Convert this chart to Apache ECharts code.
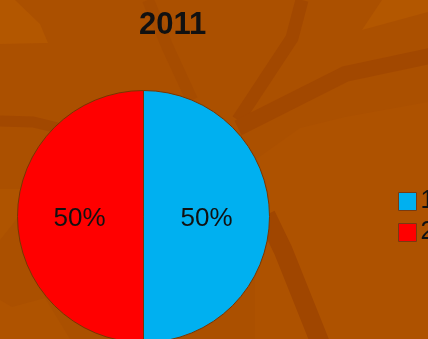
<!DOCTYPE html>
<html>
<head>
<meta charset="utf-8">
<script src="https://cdn.jsdelivr.net/npm/echarts@6/dist/echarts.min.js"></script>
<style>
  html, body { margin: 0; padding: 0; background: #ab5000; }
  #chart { width: 428px; height: 339px; }
</style>
</head>
<body>
<div id="chart"></div>
<script>
// Chart content
const chartTitle = '2011';
const categories = ['1', '2'];
const values = [50, 50];
const sliceColors = ['#00b0f0', '#ff0000'];
// Small nudges for the in-slice percentage labels
const labelOffsets = [[-3, 2], [2, 2]];

// Wood-grain style backdrop made of flat shapes
const LIGHT = '#b35700';
const DARK = '#a24800';
const backdrop = [
  { type: 'rect', shape: { x: 0, y: 0, width: 428, height: 339 }, style: { fill: '#ab5000' } },
  { type: 'polygon', shape: { points: [[0, 0], [15, 0], [40, 24], [48, 43], [0, 44]] }, style: { fill: LIGHT } },
  { type: 'polygon', shape: { points: [[362, 30], [382, 0], [428, 0], [428, 12]] }, style: { fill: LIGHT } },
  { type: 'polygon', shape: { points: [[255, 160], [300, 128], [345, 117], [428, 102], [428, 339], [255, 339]] }, style: { fill: '#ae5200' } },
  { type: 'polygon', shape: { points: [[0, 189], [20, 189], [30, 200], [12, 225], [0, 240]] }, style: { fill: '#af5400' } },
  { type: 'polygon', shape: { points: [[0, 300], [12, 307], [45, 298], [70, 339], [0, 339]] }, style: { fill: '#af5300' } },
  { type: 'polyline', shape: { points: [[148, 0], [168, 48], [192, 100]] }, style: { stroke: '#a64c00', lineWidth: 12, fill: null } },
  { type: 'polyline', shape: { points: [[302, 0], [292, 38], [238, 120]] }, style: { stroke: DARK, lineWidth: 13, fill: null } },
  { type: 'polyline', shape: { points: [[238, 128], [345, 74], [430, 56]] }, style: { stroke: DARK, lineWidth: 16, fill: null } },
  { type: 'polyline', shape: { points: [[0, 121], [33, 122], [58, 128]] }, style: { stroke: DARK, lineWidth: 11, fill: null } },
  { type: 'polyline', shape: { points: [[266, 215], [283, 250], [321, 345]] }, style: { stroke: '#a04600', lineWidth: 19, fill: null } }
].map(function (g) { g.z = -10; g.silent = true; return g; });

const chart = echarts.init(document.getElementById('chart'), null, { renderer: 'canvas' });
chart.setOption({
  animation: false,
  backgroundColor: '#ab5000',
  graphic: { elements: backdrop },
  title: {
    text: chartTitle,
    left: 134,
    top: 5,
    textStyle: {
      fontFamily: 'Liberation Sans',
      fontSize: 31,
      fontWeight: 'bold',
      color: '#111'
    }
  },
  legend: {
    orient: 'vertical',
    left: 393,
    top: 184,
    itemWidth: 18,
    itemHeight: 18,
    itemGap: 6,
    icon: 'rect',
    data: categories,
    textStyle: {
      fontFamily: 'Liberation Sans',
      fontSize: 25,
      color: '#111',
      padding: [0, 0, 0, -1]
    },
    itemStyle: { borderColor: '#7a3a10', borderWidth: 1 }
  },
  series: [{
    type: 'pie',
    center: [143.5, 216.5],
    radius: 126,
    startAngle: 90,
    clockwise: true,
    color: sliceColors,
    itemStyle: { borderColor: '#7a3500', borderWidth: 1 },
    label: {
      show: true,
      position: 'inside',
      formatter: '{d}%',
      fontFamily: 'Liberation Sans',
      fontSize: 26,
      color: '#111'
    },
    labelLine: { show: false },
    emphasis: { disabled: true },
    data: categories.map(function (c, i) {
      return { name: c, value: values[i], label: { offset: labelOffsets[i] } };
    })
  }]
});
</script>
</body>
</html>
